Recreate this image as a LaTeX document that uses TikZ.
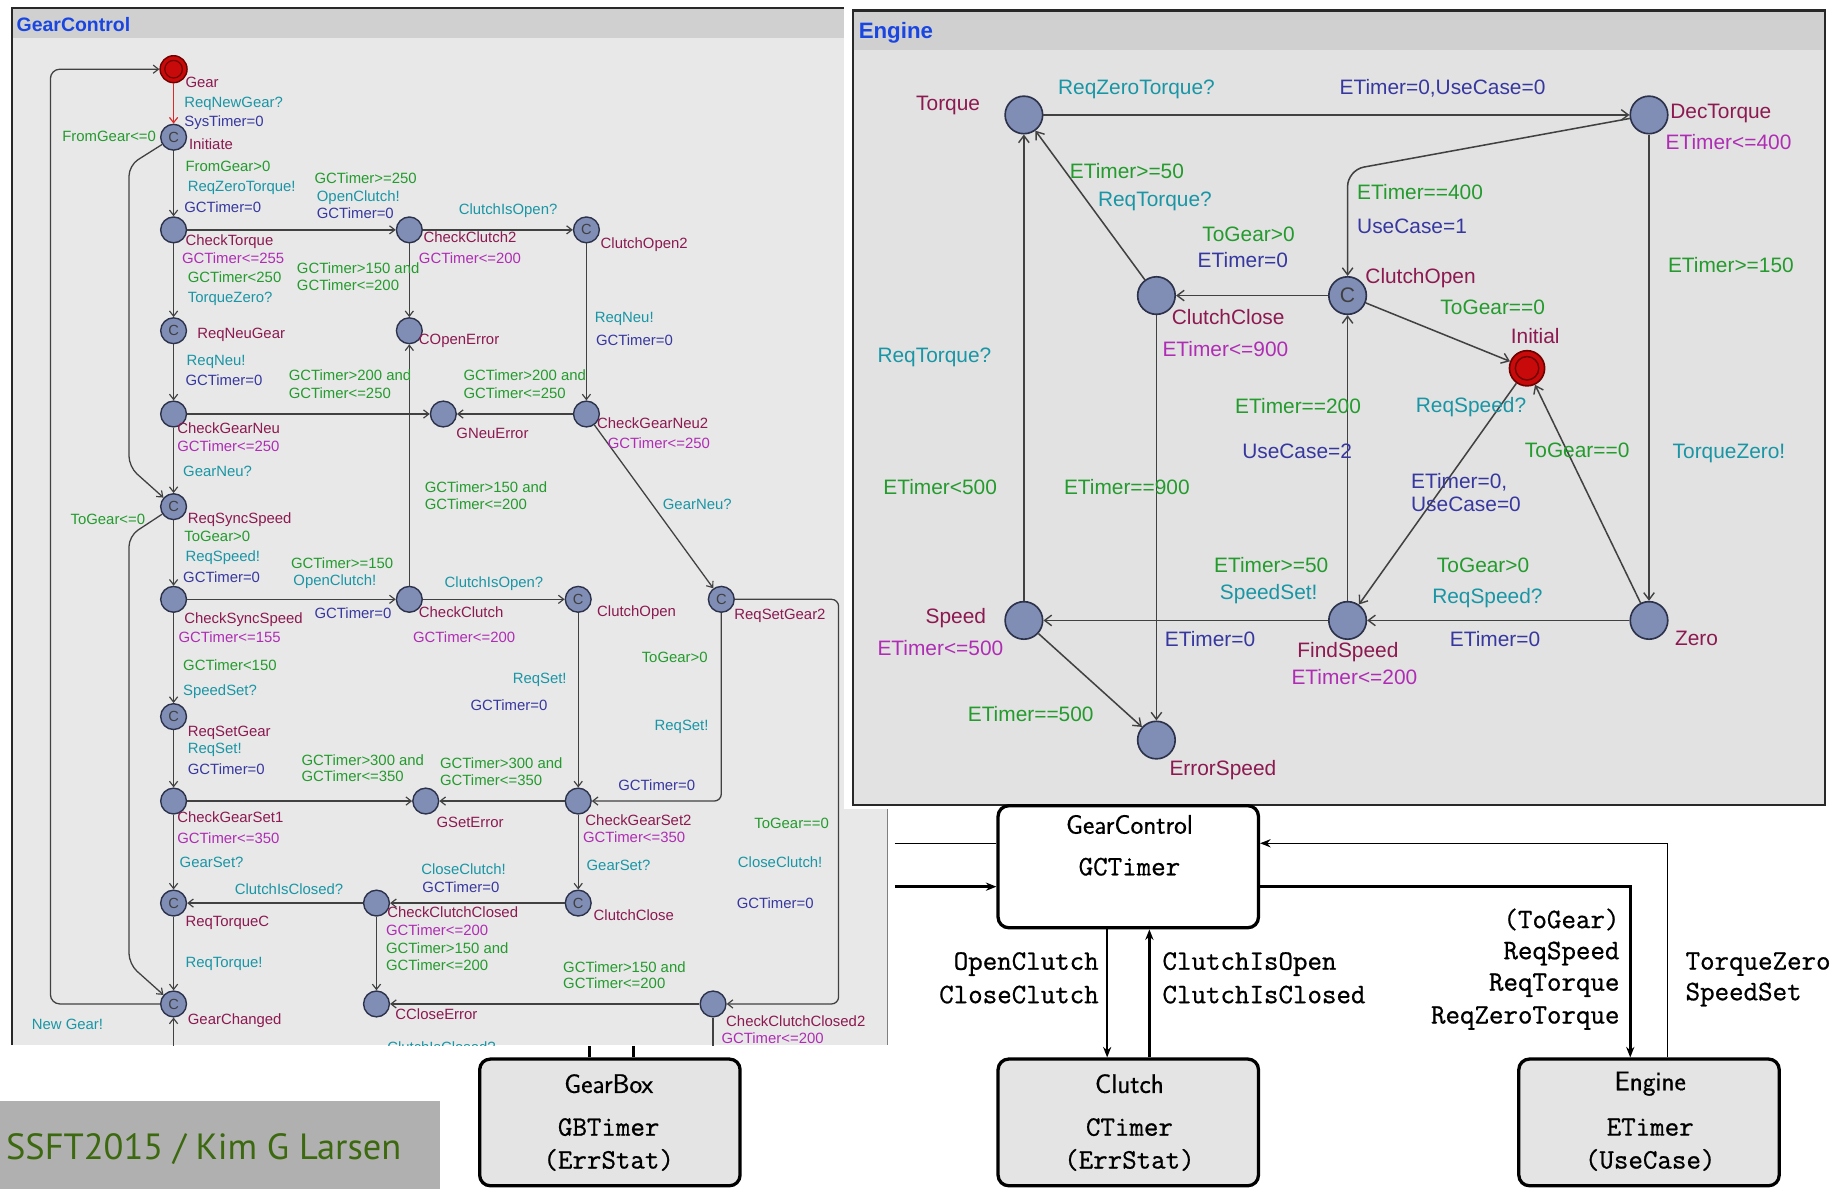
\documentclass[tikz,border=0pt]{standalone}
\usepackage{fontspec}
\usetikzlibrary{arrows.meta}
\newfontfamily\uppfont{Liberation Sans}
\newfontfamily\slidefont{PT Sans}
\newfontfamily\blockmono[FakeBold=0.8]{Latin Modern Mono}
\newfontfamily\blocksans[FakeBold=0.5]{Latin Modern Sans}

\definecolor{gcbg}{RGB}{232,232,232}
\definecolor{enbg}{RGB}{226,226,226}
\definecolor{barc}{RGB}{208,208,208}
\definecolor{framec}{RGB}{40,40,40}
\definecolor{titlec}{RGB}{25,70,225}
\definecolor{namec}{RGB}{140,25,80}
\definecolor{invc}{RGB}{175,45,180}
\definecolor{grdc}{RGB}{35,155,45}
\definecolor{sync}{RGB}{25,150,165}
\definecolor{updc}{RGB}{55,55,160}
\definecolor{locfill}{RGB}{128,142,182}
\definecolor{locdraw}{RGB}{45,50,75}
\definecolor{edgec}{RGB}{65,65,65}
\definecolor{initfill}{RGB}{200,10,10}
\definecolor{initdraw}{RGB}{110,0,0}
\definecolor{redge}{RGB}{220,40,40}
\definecolor{boxgray}{RGB}{228,228,228}
\definecolor{footgray}{RGB}{176,176,176}
\definecolor{footgreen}{RGB}{60,105,15}

\begin{document}
\begin{tikzpicture}[x=1pt,y=-1pt,
  gloc/.style={circle,draw=locdraw,fill=locfill,line width=1.2pt,minimum size=22pt,inner sep=0pt,
    font=\uppfont\fontsize{12.5}{12.5}\selectfont,text=black!75},
  ginit/.style={gloc,minimum size=23pt,fill=initfill,draw=initdraw,
    path picture={\draw[initdraw,line width=1pt] (path picture bounding box.center) circle[radius=7.5pt];}},
  eloc/.style={gloc,minimum size=32pt,line width=1.4pt,font=\uppfont\fontsize{18}{18}\selectfont},
  elocinit/.style={eloc,minimum size=30pt,fill=initfill,draw=initdraw,
    path picture={\draw[initdraw,line width=1.2pt] (path picture bounding box.center) circle[radius=10pt];}},
  gl/.style={font=\uppfont\fontsize{12.7}{13}\selectfont,anchor=base west,inner sep=0pt,yshift=-4.6pt},
  el/.style={font=\uppfont\fontsize{17.8}{18}\selectfont,anchor=base west,inner sep=0pt,yshift=-6.3pt},
  nm/.style={text=namec}, inv/.style={text=invc}, grd/.style={text=grdc},
  syn/.style={text=sync}, upd/.style={text=updc},
  gline/.style={draw=edgec,line width=1.1pt},
  gedge/.style={gline,-{Straight Barb[length=4.5pt,width=7pt,line width=1pt]}},
  eedge/.style={draw=edgec,line width=1.3pt,-{Straight Barb[length=6pt,width=9pt,line width=1.2pt]}},
  ptitle/.style={font=\uppfont\bfseries,text=titlec,anchor=west,inner sep=0pt},
  bbox/.style={draw=black,line width=2.8pt,rounded corners=9pt,minimum width=222pt,inner sep=0pt},
  bsf/.style={font=\blocksans\fontsize{23}{23}\selectfont,inner sep=0pt},
  btt/.style={font=\blockmono\fontsize{24}{24}\selectfont,inner sep=0pt},
  bthin/.style={draw=black,line width=1.2pt},
  bthick/.style={draw=black,line width=2.6pt},
  barrow/.style={-{Stealth[length=9pt,width=7pt]}}
]
\useasboundingbox (0,0) rectangle (1568,1014);
\fill[white] (0,0) rectangle (1568,1014);

% ---------------- GearControl automaton ----------------
\fill[gcbg] (10,7) rectangle (757,891);
\fill[barc] (10,7) rectangle (720,32);
\draw[framec,line width=1.6pt] (10,891) -- (10,7) -- (720,7);
\draw[gray,line width=1pt] (757,690) -- (757,891);
\node[ptitle,font=\uppfont\bfseries\fontsize{16.6}{17}\selectfont] (gctitle) at (14,21) {GearControl};

\begin{scope}
\clip (10,32) rectangle (757,891);

\node[ginit] (gear) at (148,59) {};
\node[gloc] (init) at (148,117) {C};
\node[gloc] (ctq) at (148,196) {};
\node[gloc] (cc2) at (349,196) {};
\node[gloc] (co2) at (500,196) {C};
\node[gloc] (rng) at (148,282) {C};
\node[gloc] (coe) at (349,282) {};
\node[gloc] (cgn) at (148,353) {};
\node[gloc] (gne) at (378,353) {};
\node[gloc] (cgn2) at (500,353) {};
\node[gloc] (rss) at (148,432) {C};
\node[gloc] (css) at (148,511) {};
\node[gloc] (cc) at (349,511) {};
\node[gloc] (co) at (493,511) {C};
\node[gloc] (rsg2) at (615,511) {C};
\node[gloc] (rsg) at (148,611) {C};
\node[gloc] (cgs1) at (148,683) {};
\node[gloc] (gse) at (363,683) {};
\node[gloc] (cgs2) at (493,683) {};
\node[gloc] (rtc) at (148,770) {C};
\node[gloc] (ccc) at (321,770) {};
\node[gloc] (ccl) at (493,770) {C};
\node[gloc] (gch) at (148,856) {C};
\node[gloc] (cce) at (321,856) {};
\node[gloc] (ccc2) at (608,856) {};
\coordinate (botA) at (608,897);
\coordinate (botB) at (148,897);

\draw[gedge,draw=redge] (gear) -- (init);
\draw[gedge] (init) -- (ctq);
\draw[gedge,rounded corners=9pt] (init) -- (110,141) -- (110,398) -- (rss);
\draw[gedge,rounded corners=9pt] (rss) -- (110,457) -- (110,822) -- (gch);
\draw[gedge,rounded corners=8pt] (gch) -- (43,856) -- (43,59) -- (gear);
\draw[gedge] (ctq) -- (cc2);
\draw[gedge] (ctq) -- (rng);
\draw[gedge] (cc2) -- (coe);
\draw[gedge] (cc2) -- (co2);
\draw[gedge] (co2) -- (cgn2);
\draw[gedge] (rng) -- (cgn);
\draw[gedge] (cgn) -- (gne);
\draw[gedge] (cgn2) -- (gne);
\draw[gedge] (cgn) -- (rss);
\draw[gedge] (cgn2) -- (rsg2);
\draw[gedge] (rss) -- (css);
\draw[gedge] (css) -- (cc);
\draw[gedge] (cc) -- (coe);
\draw[gedge] (cc) -- (co);
\draw[gedge] (co) -- (cgs2);
\draw[gedge,rounded corners=6pt] (rsg2) -- (615,683) -- (cgs2);
\draw[gedge,rounded corners=6pt] (rsg2) -- (715,511) -- (715,856) -- (ccc2);
\draw[gedge] (css) -- (rsg);
\draw[gedge] (rsg) -- (cgs1);
\draw[gedge] (cgs1) -- (gse);
\draw[gedge] (cgs2) -- (gse);
\draw[gedge] (cgs1) -- (rtc);
\draw[gedge] (cgs2) -- (ccl);
\draw[gedge] (ccl) -- (ccc);
\draw[gedge] (ccc) -- (rtc);
\draw[gedge] (ccc) -- (cce);
\draw[gedge] (rtc) -- (gch);
\draw[gedge] (ccc2) -- (cce);
\draw[gline] (ccc2) -- (botA);
\draw[gedge] (botB) -- (gch);

% location names
\foreach \x/\y/\t [count=\i] in {158/70/Gear,161/123/Initiate,158/205/CheckTorque,361/202/CheckClutch2,
  512/207/ClutchOpen2,168/284/ReqNeuGear,357/289/COpenError,151/365/CheckGearNeu,389/369/GNeuError,
  509/361/CheckGearNeu2,160/442/ReqSyncSpeed,157/527/CheckSyncSpeed,357/522/CheckClutch,509/521/ClutchOpen,
  626/524/ReqSetGear2,160/623/ReqSetGear,151/697/CheckGearSet1,372/701/GSetError,499/699/CheckGearSet2,
  158/785/ReqTorqueC,330/778/CheckClutchClosed,506/780/ClutchClose,160/869/GearChanged,337/865/CCloseError,
  619/871/CheckClutchClosed2}
  \node[gl,nm] (gn\i) at (\x,\y) {\t};
% invariants
\foreach \x/\y/\t [count=\i] in {155/220/{GCTimer<=255},357/220/{GCTimer<=200},151/380/{GCTimer<=250},
  518/378/{GCTimer<=250},152/543/{GCTimer<=155},352/543/{GCTimer<=200},151/715/{GCTimer<=350},
  497/714/{GCTimer<=350},329/793/{GCTimer<=200},615/885/{GCTimer<=200}}
  \node[gl,inv] (gi\i) at (\x,\y) {\t};
% guards
\foreach \x/\y/\t [count=\i] in {53/116/{FromGear<=0},158/142/{FromGear>0},268/152/{GCTimer>=250},
  160/236/{GCTimer<250},253/229/{GCTimer>150 and},253/243/{GCTimer<=200},
  246/320/{GCTimer>200 and},246/335/{GCTimer<=250},395/320/{GCTimer>200 and},395/335/{GCTimer<=250},
  362/415/{GCTimer>150 and},362/430/{GCTimer<=200},60/443/{ToGear<=0},157/457/{ToGear>0},
  248/480/{GCTimer>=150},156/567/{GCTimer<150},547/560/{ToGear>0},
  257/648/{GCTimer>300 and},257/662/{GCTimer<=350},375/651/{GCTimer>300 and},375/665/{GCTimer<=350},
  643/702/{ToGear==0},329/808/{GCTimer>150 and},329/823/{GCTimer<=200},
  480/825/{GCTimer>150 and},480/838/{GCTimer<=200}}
  \node[gl,grd] (gg\i) at (\x,\y) {\t};
% synchronisations
\foreach \x/\y/\t [count=\i] in {157/87/{ReqNewGear?},160/159/{ReqZeroTorque!},270/167/{OpenClutch!},
  391/178/{ClutchIsOpen?},160/253/{TorqueZero?},507/270/{ReqNeu!},159/307/{ReqNeu!},156/402/{GearNeu?},
  565/430/{GearNeu?},158/474/{ReqSpeed!},250/495/{OpenClutch!},379/496/{ClutchIsOpen?},156/588/{SpeedSet?},
  437/578/{ReqSet!},558/618/{ReqSet!},160/638/{ReqSet!},153/735/{GearSet?},500/738/{GearSet?},
  629/735/{CloseClutch!},359/741/{CloseClutch!},200/758/{ClutchIsClosed?},158/820/{ReqTorque!},
  27/873/{New Gear!},330/893/{ClutchIsClosed?}}
  \node[gl,syn] (gs\i) at (\x,\y) {\t};
% updates
\foreach \x/\y/\t [count=\i] in {157/103/{SysTimer=0},157/177/{GCTimer=0},270/182/{GCTimer=0},
  508/290/{GCTimer=0},158/324/{GCTimer=0},156/492/{GCTimer=0},268/523/{GCTimer=0},401/601/{GCTimer=0},
  160/656/{GCTimer=0},527/669/{GCTimer=0},628/770/{GCTimer=0},360/756/{GCTimer=0}}
  \node[gl,upd] (gu\i) at (\x,\y) {\t};
\end{scope}

% ---------------- Engine automaton ----------------
\fill[white] (720,0) rectangle (1568,690);
\fill[enbg] (727,9) rectangle (1556,686);
\fill[barc] (727,9) rectangle (1556,43);
\draw[framec,line width=1.8pt] (727,9) rectangle (1556,686);
\node[ptitle,font=\uppfont\bfseries\fontsize{19}{19}\selectfont] (entitle) at (732,28) {Engine};

\node[eloc] (torq) at (873,98) {};
\node[eloc] (dect) at (1406,98) {};
\node[eloc] (cclose) at (986,252) {};
\node[eloc] (copen) at (1149,252) {C};
\node[elocinit] (einit) at (1302,314) {};
\node[eloc] (speed) at (873,529) {};
\node[eloc] (finds) at (1149,529) {};
\node[eloc] (zero) at (1406,529) {};
\node[eloc] (errs) at (986,631) {};

\draw[eedge] (torq) -- (dect);
\draw[eedge] (dect) -- (zero);
\draw[eedge,rounded corners=14pt] (dect) -- (1149,145) -- (copen);
\draw[eedge] (copen) -- (cclose);
\draw[eedge] (copen) -- (einit);
\draw[eedge] (cclose) -- (torq);
\draw[eedge] (cclose) -- (errs);
\draw[eedge] (speed) -- (torq);
\draw[eedge] (speed) -- (errs);
\draw[eedge] (finds) -- (speed);
\draw[eedge] (finds) -- (copen);
\draw[eedge] (einit) -- (finds);
\draw[eedge] (zero) -- (einit);
\draw[eedge] (zero) -- (finds);

\foreach \x/\y/\t [count=\i] in {781/88/Torque,1424/95/DecTorque,1164/235/ClutchOpen,999/270/ClutchClose,
  1288/287/Initial,789/525/Speed,1106/554/FindSpeed,1428/544/Zero,997/655/ErrorSpeed}
  \node[el,nm] (en\i) at (\x,\y) {\t};
\foreach \x/\y/\t [count=\i] in {1420/121/{ETimer<=400},991/298/{ETimer<=900},748/553/{ETimer<=500},
  1101/577/{ETimer<=200}}
  \node[el,inv] (ei\i) at (\x,\y) {\t};
\foreach \x/\y/\t [count=\i] in {912/146/{ETimer>=50},1157/164/{ETimer==400},1025/200/{ToGear>0},
  1422/226/{ETimer>=150},1228/262/{ToGear==0},1053/346/{ETimer==200},1300/384/{ToGear==0},
  753/415/{ETimer<500},907/415/{ETimer==900},1035/482/{ETimer>=50},1225/482/{ToGear>0},825/609/{ETimer==500}}
  \node[el,grd] (eg\i) at (\x,\y) {\t};
\foreach \x/\y/\t [count=\i] in {902/74/{ReqZeroTorque?},936/170/{ReqTorque?},748/303/{ReqTorque?},
  1207/345/{ReqSpeed?},1426/385/{TorqueZero!},1040/505/{SpeedSet!},1221/508/{ReqSpeed?}}
  \node[el,syn] (es\i) at (\x,\y) {\t};
\foreach \x/\y/\t [count=\i] in {1142/74/{ETimer=0,UseCase=0},1157/193/{UseCase=1},1021/222/{ETimer=0},
  1059/385/{UseCase=2},1203/410/{ETimer=0,},1203/430/{UseCase=0},993/545/{ETimer=0},1236/545/{ETimer=0}}
  \node[el,upd] (eu\i) at (\x,\y) {\t};

% ---------------- component structure ----------------
\node[bbox,fill=white,minimum height=104pt] (bgc) at (962,739) {};
\node[bbox,fill=boxgray,minimum height=108pt] (bcl) at (962,957) {};
\node[bbox,fill=boxgray,minimum height=108pt] (ben) at (1406,957) {};
\node[bbox,fill=boxgray,minimum height=108pt] (bgb) at (520,957) {};

\node[bsf] (tgc1) at (963,703) {GearControl};
\node[btt] (tgc2) at (963,739) {GCTimer};
\node[bsf] (tcl1) at (963,924) {Clutch};
\node[btt] (tcl2) at (963,961) {CTimer};
\node[btt] (tcl3) at (963,989) {(ErrStat)};
\node[bsf] (ten1) at (1407,924) {Engine};
\node[btt] (ten2) at (1407,961) {ETimer};
\node[btt] (ten3) at (1407,989) {(UseCase)};
\node[bsf] (tgb1) at (519,924) {GearBox};
\node[btt] (tgb2) at (519,961) {GBTimer};
\node[btt] (tgb3) at (519,989) {(ErrStat)};

\coordinate (gbA) at (763,719);
\coordinate (gbB) at (763,756);
\draw[bthin] (gbA) -- (gbA -| bgc.west);
\draw[bthick,barrow] (gbB) -- (gbB -| bgc.west);
\coordinate (gsA) at (503,892);
\coordinate (gsB) at (540,892);
\draw[bthick] (gsA) -- (gsA |- bgb.north);
\draw[bthick] (gsB) -- (gsB |- bgb.north);
\coordinate (cA) at (944,0);
\coordinate (cB) at (980,0);
\draw[bthin,barrow] (bgc.south -| cA) -- (bcl.north -| cA);
\draw[bthick,barrow] (bcl.north -| cB) -- (bgc.south -| cB);
\coordinate (eA) at (1390,756);
\coordinate (eB) at (1422,719);
\draw[bthick,barrow] (bgc.east |- eA) -- (eA) -- (eA |- ben.north);
\draw[bthin,barrow] (eB |- ben.north) -- (eB) -- (bgc.east |- eB);

\node[btt,anchor=east] (lo1) at (937,822) {OpenClutch};
\node[btt,anchor=east] (lo2) at (937,848) {CloseClutch};
\node[btt,anchor=west] (lc1) at (991,822) {ClutchIsOpen};
\node[btt,anchor=west] (lc2) at (991,848) {ClutchIsClosed};
\node[btt,anchor=east] (lr1) at (1381,784) {(ToGear)};
\node[btt,anchor=east] (lr2) at (1381,813) {ReqSpeed};
\node[btt,anchor=east] (lr3) at (1381,840) {ReqTorque};
\node[btt,anchor=east] (lr4) at (1381,868) {ReqZeroTorque};
\node[btt,anchor=west] (lt1) at (1437,822) {TorqueZero};
\node[btt,anchor=west] (lt2) at (1437,848) {SpeedSet};

% ---------------- footer ----------------
\fill[footgray] (0,939) rectangle (375,1014);
\node[anchor=base west,inner sep=0pt,text=footgreen] (foot) at (5,989)
  {\resizebox{337pt}{!}{\slidefont\fontsize{26}{26}\selectfont SSFT2015 / Kim G Larsen}};
\end{tikzpicture}
\end{document}
